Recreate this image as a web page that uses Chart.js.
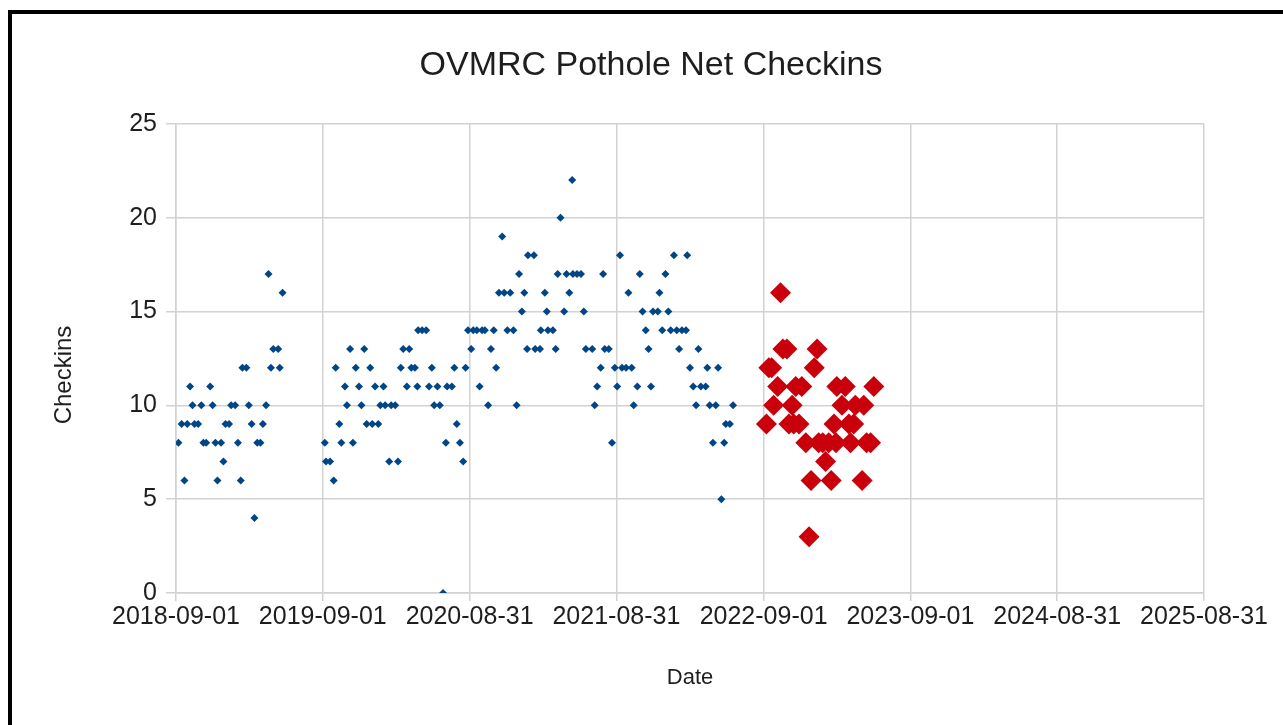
<!DOCTYPE html>
<html>
<head>
<meta charset="utf-8">
<title>OVMRC Pothole Net Checkins</title>
<script src="https://cdn.jsdelivr.net/npm/chart.js@4.4.1/dist/chart.umd.min.js"></script>
<style>
    html, body { margin: 0; padding: 0; background: #fff; }
    #wrap { position: relative; width: 1283px; height: 725px; overflow: hidden; }
    #frame { position: absolute; left: 8px; top: 10px; width: 1400px; height: 800px; border: 4px solid #000; box-sizing: border-box; }
    #myChart { position: absolute; left: 0; top: 0; }
</style>
</head>
<body>
<div id="wrap">
    <div id="frame"></div>
    <canvas id="myChart" width="1283" height="725"></canvas>
</div>
<script>
// tick labels on the date axis
const xTickLabels = ['2018-09-01', '2019-09-01', '2020-08-31', '2021-08-31',
    '2022-09-01', '2023-09-01', '2024-08-31', '2025-08-31'];

// older checkins (blue)
const pastDates = [
    '2018-09-07', '2018-09-15', '2018-09-22', '2018-09-29', '2018-10-06', '2018-10-12', '2018-10-17', '2018-10-26',
    '2018-11-03', '2018-11-08', '2018-11-15', '2018-11-25', '2018-12-01', '2018-12-08', '2018-12-13', '2018-12-22',
    '2018-12-28', '2019-01-02', '2019-01-11', '2019-01-16', '2019-01-26', '2019-02-02', '2019-02-09', '2019-02-13',
    '2019-02-23', '2019-03-01', '2019-03-08', '2019-03-15', '2019-03-22', '2019-03-30', '2019-04-05', '2019-04-13',
    '2019-04-19', '2019-04-25', '2019-05-01', '2019-05-13', '2019-05-17', '2019-05-24',
    '2019-09-06', '2019-09-09', '2019-09-19', '2019-09-28', '2019-10-03', '2019-10-12', '2019-10-17', '2019-10-26',
    '2019-10-31', '2019-11-08', '2019-11-15', '2019-11-22', '2019-11-30', '2019-12-06', '2019-12-13', '2019-12-19',
    '2019-12-28', '2020-01-02', '2020-01-09', '2020-01-17', '2020-01-22', '2020-01-30', '2020-02-03', '2020-02-13',
    '2020-02-18', '2020-02-28', '2020-03-06', '2020-03-13', '2020-03-19', '2020-03-28', '2020-04-03', '2020-04-08',
    '2020-04-17', '2020-04-23', '2020-04-25', '2020-05-05', '2020-05-15', '2020-05-22', '2020-05-29', '2020-06-04',
    '2020-06-12', '2020-06-18', '2020-06-26', '2020-07-03', '2020-07-06', '2020-07-18', '2020-07-24', '2020-07-30',
    '2020-08-07', '2020-08-15', '2020-08-21', '2020-08-27', '2020-09-04', '2020-09-09', '2020-09-18', '2020-09-25',
    '2020-10-01', '2020-10-08', '2020-10-16', '2020-10-23', '2020-10-30', '2020-11-05', '2020-11-12', '2020-11-20',
    '2020-11-25', '2020-12-03', '2020-12-10', '2020-12-18', '2020-12-26', '2021-01-01', '2021-01-08', '2021-01-14',
    '2021-01-21', '2021-01-23', '2021-02-07', '2021-02-10', '2021-02-22', '2021-02-24', '2021-03-06', '2021-03-11',
    '2021-03-14', '2021-03-26', '2021-04-02', '2021-04-07', '2021-04-14', '2021-04-23', '2021-04-29', '2021-05-06',
    '2021-05-13', '2021-05-15', '2021-05-25', '2021-06-04', '2021-06-11', '2021-06-16', '2021-07-02', '2021-07-08',
    '2021-07-14', '2021-07-23', '2021-07-29', '2021-08-02', '2021-08-12', '2021-08-20', '2021-08-27', '2021-09-02',
    '2021-09-09', '2021-09-14', '2021-09-24', '2021-09-30', '2021-10-08', '2021-10-13', '2021-10-22', '2021-10-28',
    '2021-11-04', '2021-11-12', '2021-11-19', '2021-11-25', '2021-11-30', '2021-12-12', '2021-12-16', '2021-12-23',
    '2021-12-31', '2022-01-07', '2022-01-13', '2022-01-21', '2022-01-28', '2022-02-03', '2022-02-10', '2022-02-20',
    '2022-02-23', '2022-03-02', '2022-03-10', '2022-03-17', '2022-03-23', '2022-03-29', '2022-04-10', '2022-04-14',
    '2022-04-20', '2022-04-28', '2022-05-05', '2022-05-11', '2022-05-19', '2022-05-26', '2022-05-30', '2022-06-09',
    '2022-06-17'
];
const pastCheckins = [
    8, 9, 6, 9, 11, 10, 9, 9,
    10, 8, 8, 11, 10, 8, 6, 8,
    7, 9, 9, 10, 10, 8, 6, 12,
    12, 10, 9, 4, 8, 8, 9, 10,
    17, 12, 13, 13, 12, 16,
    8, 7, 7, 6, 12, 9, 8, 11,
    10, 13, 8, 12, 11, 10, 13, 9,
    12, 9, 11, 9, 10, 11, 10, 7,
    10, 10, 7, 12, 13, 11, 13, 12,
    12, 11, 14, 14, 14, 11, 12, 10,
    11, 10, 0, 8, 11, 11, 12, 9,
    8, 7, 12, 14, 13, 14, 14, 11,
    14, 14, 10, 13, 14, 12, 16, 19,
    16, 14, 16, 14, 10, 17, 15, 16,
    13, 18, 18, 13, 13, 14, 16, 15,
    14, 14, 13, 17, 20, 15, 17, 16,
    22, 17, 17, 17, 15, 13, 13, 10,
    11, 12, 17, 13, 13, 8, 12, 11,
    18, 12, 12, 16, 12, 10, 11, 17,
    15, 14, 13, 11, 15, 15, 16, 14,
    17, 15, 14, 18, 14, 13, 14, 14,
    18, 12, 11, 10, 13, 11, 11, 12,
    10, 8, 10, 12, 5, 8, 9, 9,
    10
];

// current season checkins (red)
const recentDates = [
    '2022-09-08', '2022-09-14', '2022-09-21', '2022-09-26', '2022-10-06', '2022-10-13', '2022-10-19', '2022-10-29',
    '2022-11-03', '2022-11-11', '2022-11-15', '2022-11-20', '2022-11-28', '2022-12-05', '2022-12-15', '2022-12-23',
    '2022-12-28', '2023-01-05', '2023-01-12', '2023-01-16', '2023-01-26', '2023-02-02', '2023-02-10', '2023-02-16',
    '2023-02-23', '2023-02-28', '2023-03-02', '2023-03-15', '2023-03-23', '2023-04-01', '2023-04-05', '2023-04-13',
    '2023-04-17', '2023-05-04', '2023-05-08', '2023-05-15', '2023-05-25', '2023-06-02'
];
const recentCheckins = [
    9, 12, 12, 10, 11, 16, 13, 13,
    9, 10, 9, 11, 9, 11, 8, 3,
    6, 12, 13, 8, 8, 7, 8, 6,
    9, 8, 11, 10, 11, 9, 8, 9,
    10, 6, 10, 8, 8, 11
];

const toDay = s => Date.parse(s + 'T00:00:00Z') / 86400000;
const fmtDay = v => new Date(Math.round(v) * 86400000).toISOString().slice(0, 10);

const fontFamily = '"Liberation Sans", Arial, sans-serif';
const textColor = '#1e1e1e';
const gridColor = '#d2d2d2';

// the original centres the title on the page and the y title a bit low
const titlePlacement = {
    id: 'titlePlacement',
    afterLayout(chart) {
        if (chart.titleBlock) {
            chart.titleBlock.left += 49;
            chart.titleBlock.right += 49;
        }
    },
    afterDraw(chart) {
        const c = chart.ctx;
        c.save();
        c.translate(64, 375);
        c.rotate(-Math.PI / 2);
        c.font = '24px ' + fontFamily;
        c.fillStyle = textColor;
        c.textAlign = 'center';
        c.textBaseline = 'middle';
        c.fillText('Checkins', 0, 0);
        c.restore();
    }
};

const ctx = document.getElementById('myChart').getContext('2d');

const myChart = new Chart(ctx, {
    type: 'scatter',
    data: {
        datasets: [
            {
                label: 'Checkins',
                data: pastDates.map((d, i) => ({ x: toDay(d), y: pastCheckins[i] })),
                backgroundColor: '#004586',
                borderWidth: 0,
                pointStyle: 'rectRot',
                pointRadius: 4
            },
            {
                label: 'Current',
                data: recentDates.map((d, i) => ({ x: toDay(d), y: recentCheckins[i] })),
                backgroundColor: '#c9000b',
                borderWidth: 0,
                pointStyle: 'rectRot',
                pointRadius: 10.5
            }
        ]
    },
    options: {
        responsive: false,
        animation: false,
        layout: { padding: { left: 0, right: 79, top: 0, bottom: 0 } },
        plugins: {
            legend: { display: false },
            tooltip: { enabled: false },
            title: {
                display: true,
                text: 'OVMRC Pothole Net Checkins',
                color: textColor,
                font: { family: fontFamily, size: 34, weight: 'normal' },
                padding: { top: 45, bottom: 38 }
            }
        },
        scales: {
            x: {
                type: 'linear',
                min: toDay(xTickLabels[0]),
                max: toDay(xTickLabels[xTickLabels.length - 1]),
                afterBuildTicks: scale => {
                    scale.ticks = xTickLabels.map(t => ({ value: toDay(t) }));
                },
                afterFit: scale => { scale.height = 132; },
                grid: { color: gridColor, lineWidth: 1.5, tickLength: 8 },
                border: { color: gridColor, width: 1.5 },
                ticks: {
                    callback: v => fmtDay(v),
                    autoSkip: false,
                    maxRotation: 0,
                    padding: 1,
                    color: textColor,
                    font: { family: fontFamily, size: 25 }
                },
                title: {
                    display: true,
                    text: 'Date',
                    color: textColor,
                    font: { family: fontFamily, size: 22 },
                    padding: { top: 0, bottom: 34 }
                }
            },
            y: {
                min: 0,
                max: 25,
                afterFit: scale => { scale.width = 176; },
                grid: { color: gridColor, lineWidth: 1.5, tickLength: 10 },
                border: { color: gridColor, width: 1.5 },
                ticks: {
                    stepSize: 5,
                    padding: 9,
                    color: textColor,
                    font: { family: fontFamily, size: 25 }
                },
                title: { display: false }
            }
        }
    },
    plugins: [titlePlacement]
});
</script>
</body>
</html>
